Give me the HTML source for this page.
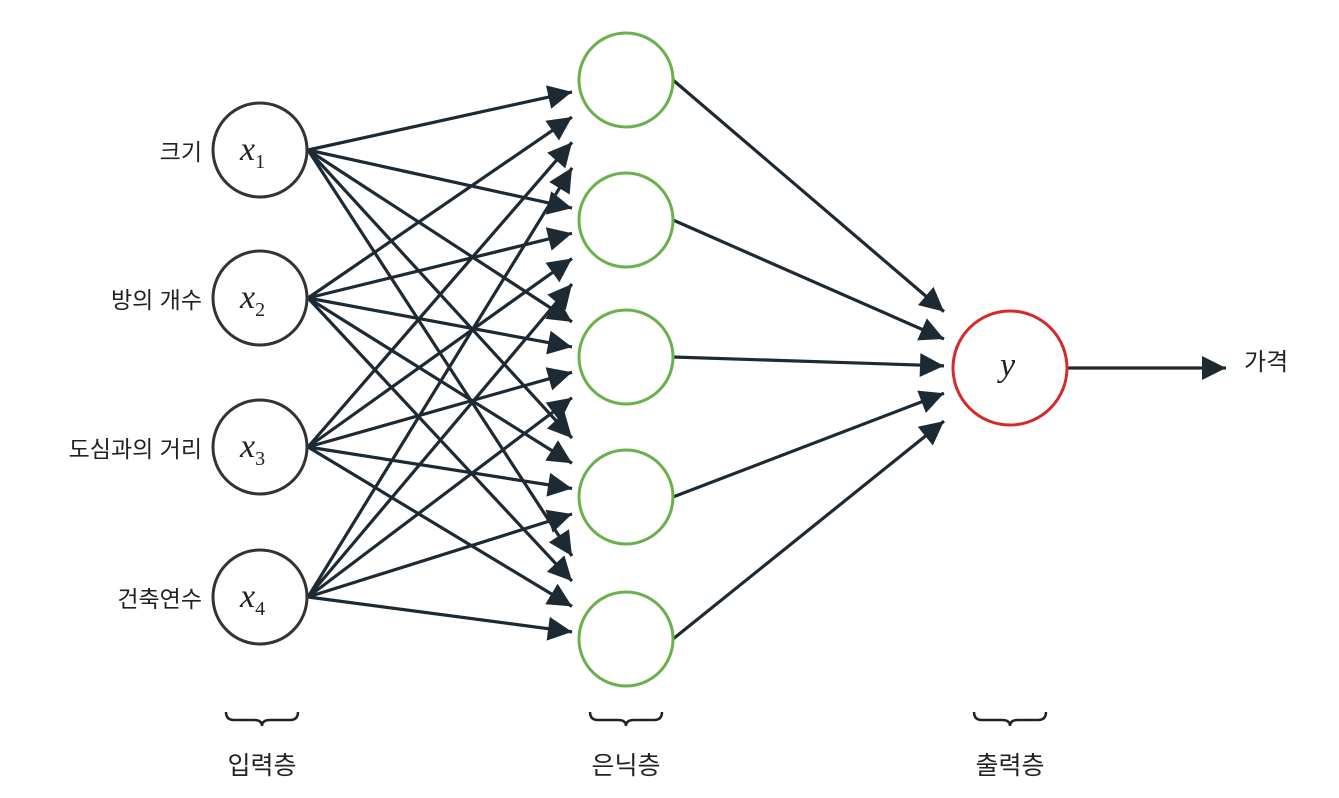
<!DOCTYPE html>
<html><head><meta charset="utf-8"><style>
body{margin:0;background:#fff;}
svg{display:block;}
text{font-family:"Liberation Sans","Noto Sans CJK KR",sans-serif;fill:#222;}
.m{font-family:"Liberation Serif",serif;font-style:italic;}
</style></head><body>
<svg width="1339" height="798" viewBox="0 0 1339 798">
<defs>
<marker id="b" viewBox="0 0 10 10" refX="10" refY="5" markerWidth="32" markerHeight="24" orient="auto" markerUnits="userSpaceOnUse">
<path d="M0,0 L10,5 L0,10 Z" fill="#1e2a33"/></marker></defs>
<g id="lines" stroke="#1e2a33" stroke-width="3.2" fill="none"></g>
<g fill="#fff" stroke-width="3">
<circle cx="260" cy="150" r="47" stroke="#333"/>
<circle cx="260" cy="298" r="47" stroke="#333"/>
<circle cx="260" cy="447" r="47" stroke="#333"/>
<circle cx="260" cy="597" r="47" stroke="#333"/>
<circle cx="626" cy="80" r="47" stroke="#6ab04c"/>
<circle cx="626" cy="220" r="47" stroke="#6ab04c"/>
<circle cx="626" cy="357" r="47" stroke="#6ab04c"/>
<circle cx="626" cy="497" r="47" stroke="#6ab04c"/>
<circle cx="626" cy="639" r="47" stroke="#6ab04c"/>
<circle cx="1010" cy="368" r="57" stroke="#d42a2a"/>
</g>
<g font-size="34" class="m">
<text class="m" x="240" y="160">x<tspan font-size="20" dy="8" font-style="normal">1</tspan></text>
<text class="m" x="240" y="308">x<tspan font-size="20" dy="8" font-style="normal">2</tspan></text>
<text class="m" x="240" y="457">x<tspan font-size="20" dy="8" font-style="normal">3</tspan></text>
<text class="m" x="240" y="607">x<tspan font-size="20" dy="8" font-style="normal">4</tspan></text>
<text class="m" x="1000" y="376">y</text>
</g>
<g font-size="23" text-anchor="end">
<text x="202" y="160">크기</text>
<text x="202" y="308">방의 개수</text>
<text x="202" y="457">도심과의 거리</text>
<text x="202" y="607">건축연수</text>
</g>
<text x="1244" y="370" font-size="24">가격</text>
<g font-size="25" text-anchor="middle">
<text x="262" y="774">입력층</text>
<text x="626" y="774">은닉층</text>
<text x="1010" y="774">출력층</text>
</g>
<g stroke="#222" stroke-width="2.5" fill="none">
<path d="M226,712 q0,8 8,8 h20 q8,0 8,6 q0,-6 8,-6 h20 q8,0 8,-8"/>
<path d="M590,712 q0,8 8,8 h20 q8,0 8,6 q0,-6 8,-6 h20 q8,0 8,-8"/>
<path d="M974,712 q0,8 8,8 h20 q8,0 8,6 q0,-6 8,-6 h20 q8,0 8,-8"/>
</g>
</svg>
<script>
var g=document.getElementById('lines'),ns='http://www.w3.org/2000/svg';
function L(x1,y1,x2,y2,tx){var t=(tx-x1)/(x2-x1);var ex=tx,ey=y1+(y2-y1)*t;
var p=document.createElementNS(ns,'line');p.setAttribute('x1',x1);p.setAttribute('y1',y1);p.setAttribute('x2',ex);p.setAttribute('y2',ey);p.setAttribute('marker-end','url(#b)');g.appendChild(p);}
var I=[150,298,447,597],H=[80,220,357,497,639];
I.forEach(function(a){H.forEach(function(b){L(308,a,626,b,572);});});
H.forEach(function(b){L(673,b,1010,368,944);});
L(1068,368,1226,368,1226);
</script>
</body></html>
